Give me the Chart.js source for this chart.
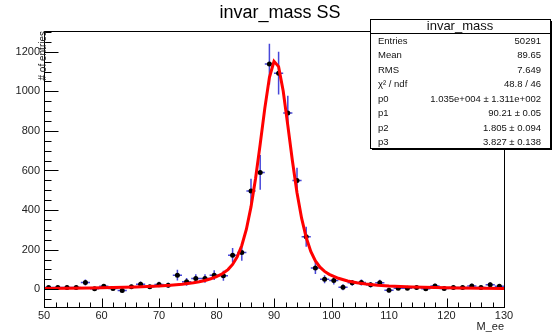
<!DOCTYPE html>
<html>
<head>
<meta charset="utf-8">
<script src="https://cdn.jsdelivr.net/npm/chart.js@4.4.1/dist/chart.umd.min.js"></script>
<style>
  html, body { margin: 0; padding: 0; background: #fff; }
</style>
</head>
<body>
<canvas id="massChart" width="559" height="336"></canvas>
<script>
// histogram bins (width 1.6 GeV, 50..130)
const binCenters = [50.8, 52.4, 54.0, 55.6, 57.2, 58.8, 60.4, 62.0, 63.6, 65.2,
  66.8, 68.4, 70.0, 71.6, 73.2, 74.8, 76.4, 78.0, 79.6, 81.2,
  82.8, 84.4, 86.0, 87.6, 89.2, 90.8, 92.4, 94.0, 95.6, 97.2,
  98.8, 100.4, 102.0, 103.6, 105.2, 106.8, 108.4, 110.0, 111.6, 113.2,
  114.8, 116.4, 118.0, 119.6, 121.2, 122.8, 124.4, 126.0, 127.6, 129.2];
const counts = [8, 8, 8, 8, 34, 2, 15, 3, -7, 12,
  25, 12, 24, 20, 71, 37, 54, 54, 71, 68,
  172, 186, 496, 590, 1138, 1092, 890, 550, 265, 107,
  50, 44, 10, 32, 34, 22, 33, -5, 5, 5,
  8, 2, 16, 3, 9, 9, 16, 9, 23, 15];
const countErrors = [9, 9, 9, 9, 15, 8, 11, 8, 10, 11,
  14, 11, 14, 13, 27, 19, 22, 22, 25, 25,
  36, 42, 62, 88, 103, 108, 88, 64, 50, 30,
  20, 20, 15, 15, 15, 13, 15, 12, 9, 9,
  9, 8, 11, 8, 9, 9, 11, 9, 12, 10];
const binHalfWidth = 0.8;

// fitted curve (Voigt peak) sampled along x
const fitX = [50, 54, 58, 62, 66, 70, 72, 74, 76, 77, 78, 79, 80, 81,
  82.0, 82.8, 83.6, 84.4, 85.2, 86.0, 86.8, 87.6, 88.4, 89.2, 90.0, 90.8,
  91.6, 92.4, 93.2, 94.0, 94.8, 95.6, 96.4, 97.2, 98.0, 98.8, 99.6,
  101.2, 102.8, 104.4, 106, 108, 110, 114, 118, 122, 126, 130];
const fitY = [3.9, 4.8, 6.1, 8.0, 10.9, 15.7, 19.4, 24.6, 32.2, 37.4, 44.1, 52.7, 63.5, 78,
  99, 125, 164, 221, 303, 416, 561, 733, 914, 1070, 1152, 1125,
  1002, 828, 649, 488, 359, 261, 191, 143, 111, 90, 75,
  55.0, 41.4, 32.3, 25.9, 20.3, 16.4, 11.3, 8.2, 6.3, 5.0, 4.0];

const xTicks = [50, 60, 70, 80, 90, 100, 110, 120, 130];
const yTicks = [0, 200, 400, 600, 800, 1000, 1200];

const statTitle = 'invar_mass';
const statLabels = ['Entries', 'Mean', 'RMS', 'χ² / ndf', 'p0', 'p1', 'p2', 'p3'];
const statValues = ['50291', '89.65', '7.649', '48.8 / 46',
  '1.035e+004 ± 1.311e+002', '90.21 ± 0.05', '1.805 ± 0.094', '3.827 ± 0.138'];

const FONT = '"Liberation Sans", Arial, Helvetica, sans-serif';

// ROOT-style frame: inward ticks, error bars, titles and stats box
const rootFrame = {
  id: 'rootFrame',
  beforeDatasetsDraw(chart) {
    const { ctx, scales: { x, y } } = chart;
    ctx.save();
    ctx.strokeStyle = 'rgba(40,40,210,0.85)';
    ctx.lineWidth = 1.5;
    ctx.beginPath();
    binCenters.forEach((c, i) => {
      const px = x.getPixelForValue(c);
      const py = y.getPixelForValue(counts[i]);
      ctx.moveTo(px, y.getPixelForValue(counts[i] - countErrors[i]));
      ctx.lineTo(px, y.getPixelForValue(counts[i] + countErrors[i]));
      ctx.moveTo(x.getPixelForValue(c - binHalfWidth), py);
      ctx.lineTo(x.getPixelForValue(c + binHalfWidth), py);
    });
    ctx.stroke();
    ctx.restore();
  },
  afterDraw(chart) {
    const { ctx, chartArea: a, scales: { x, y } } = chart;
    ctx.save();
    ctx.strokeStyle = '#000';
    ctx.lineWidth = 1;

    // frame
    ctx.strokeRect(Math.round(a.left) + 0.5, Math.round(a.top) + 0.5,
      Math.round(a.right - a.left), Math.round(a.bottom - a.top));

    // ticks pointing into the frame
    ctx.beginPath();
    const xl = Math.round(a.left) + 0.5;
    for (let v = -50; v <= 1300; v += 50) {
      const py = Math.round(y.getPixelForValue(v)) + 0.5;
      const len = v % 200 === 0 ? 14 : 7;
      ctx.moveTo(xl, py);
      ctx.lineTo(xl + len, py);
    }
    const yb = Math.round(a.bottom) + 0.5;
    for (let v = 50; v <= 130; v += 2) {
      const px = Math.round(x.getPixelForValue(v)) + 0.5;
      const len = v % 10 === 0 ? 9 : 5;
      ctx.moveTo(px, yb);
      ctx.lineTo(px, yb - len);
    }
    ctx.stroke();

    // title
    ctx.fillStyle = '#000';
    ctx.font = '18px ' + FONT;
    ctx.textAlign = 'center';
    ctx.textBaseline = 'middle';
    ctx.fillText('invar_mass SS', 280, 13);

    // axis titles
    ctx.fillStyle = '#222';
    ctx.font = '11px ' + FONT;
    ctx.textAlign = 'right';
    ctx.fillText('M_ee', a.right, 327);
    ctx.save();
    ctx.translate(a.left - 1, a.top);
    ctx.rotate(-Math.PI / 2);
    ctx.font = '10px ' + FONT;
    ctx.textAlign = 'right';
    ctx.fillText('# of entries', 0, 0);
    ctx.restore();

    // stats box with shadow
    const bx = 370, by = 19, bw = 180, bh = 129;
    ctx.fillStyle = '#000';
    ctx.fillRect(bx + 2, by + 2, bw, bh);
    ctx.fillStyle = '#fff';
    ctx.fillRect(bx, by, bw, bh);
    ctx.strokeRect(bx + 0.5, by + 0.5, bw, bh);
    ctx.beginPath();
    ctx.moveTo(bx, by + 14.5);
    ctx.lineTo(bx + bw, by + 14.5);
    ctx.stroke();

    ctx.fillStyle = '#111';
    ctx.font = '13px ' + FONT;
    ctx.textAlign = 'center';
    ctx.fillText(statTitle, bx + bw / 2, by + 7.5);
    ctx.font = '9.5px ' + FONT;
    statLabels.forEach((lab, i) => {
      const ty = 41 + i * 14.5;
      ctx.textAlign = 'left';
      ctx.fillText(lab, bx + 8, ty);
      ctx.textAlign = 'right';
      ctx.fillText(statValues[i], bx + bw - 9, ty);
    });
    ctx.restore();
  }
};

const config = {
  type: 'scatter',
  data: {
    datasets: [
      {
        type: 'line',
        label: 'fit',
        data: fitX.map((v, i) => ({ x: v, y: fitY[i] })),
        borderColor: '#ff0000',
        borderWidth: 3,
        pointRadius: 0,
        tension: 0,
        fill: false,
        order: 0,
      },
      {
        label: 'invar_mass',
        data: binCenters.map((v, i) => ({ x: v, y: counts[i] })),
        backgroundColor: '#000',
        borderWidth: 0,
        pointRadius: 2.5,
        order: 1,
      },
    ],
  },
  options: {
    responsive: false,
    animation: false,
    devicePixelRatio: 1,
    layout: { padding: { left: 0, top: 31, right: 55, bottom: 0 } },
    plugins: { legend: { display: false }, tooltip: { enabled: false }, title: { display: false } },
    scales: {
      x: {
        type: 'linear',
        min: 50,
        max: 130,
        afterBuildTicks: (s) => { s.ticks = xTicks.map((v) => ({ value: v })); },
        afterFit: (s) => { s.height = 29; },
        grid: { display: false, drawTicks: false },
        border: { display: true, color: '#000', width: 1 },
        ticks: {
          color: '#222', font: { size: 11, family: FONT }, padding: 2,
          maxRotation: 0, autoSkip: false, callback: (v) => String(v),
        },
      },
      y: {
        type: 'linear',
        min: -90,
        max: 1305,
        afterBuildTicks: (s) => { s.ticks = yTicks.map((v) => ({ value: v })); },
        afterFit: (s) => { s.width = 44; },
        grid: { display: false, drawTicks: false },
        border: { display: true, color: '#000', width: 1 },
        ticks: { color: '#222', font: { size: 11, family: FONT }, padding: 4, callback: (v) => String(v) },
      },
    },
  },
  plugins: [rootFrame],
};

const massChart = new Chart(document.getElementById('massChart'), config);
</script>
</body>
</html>
